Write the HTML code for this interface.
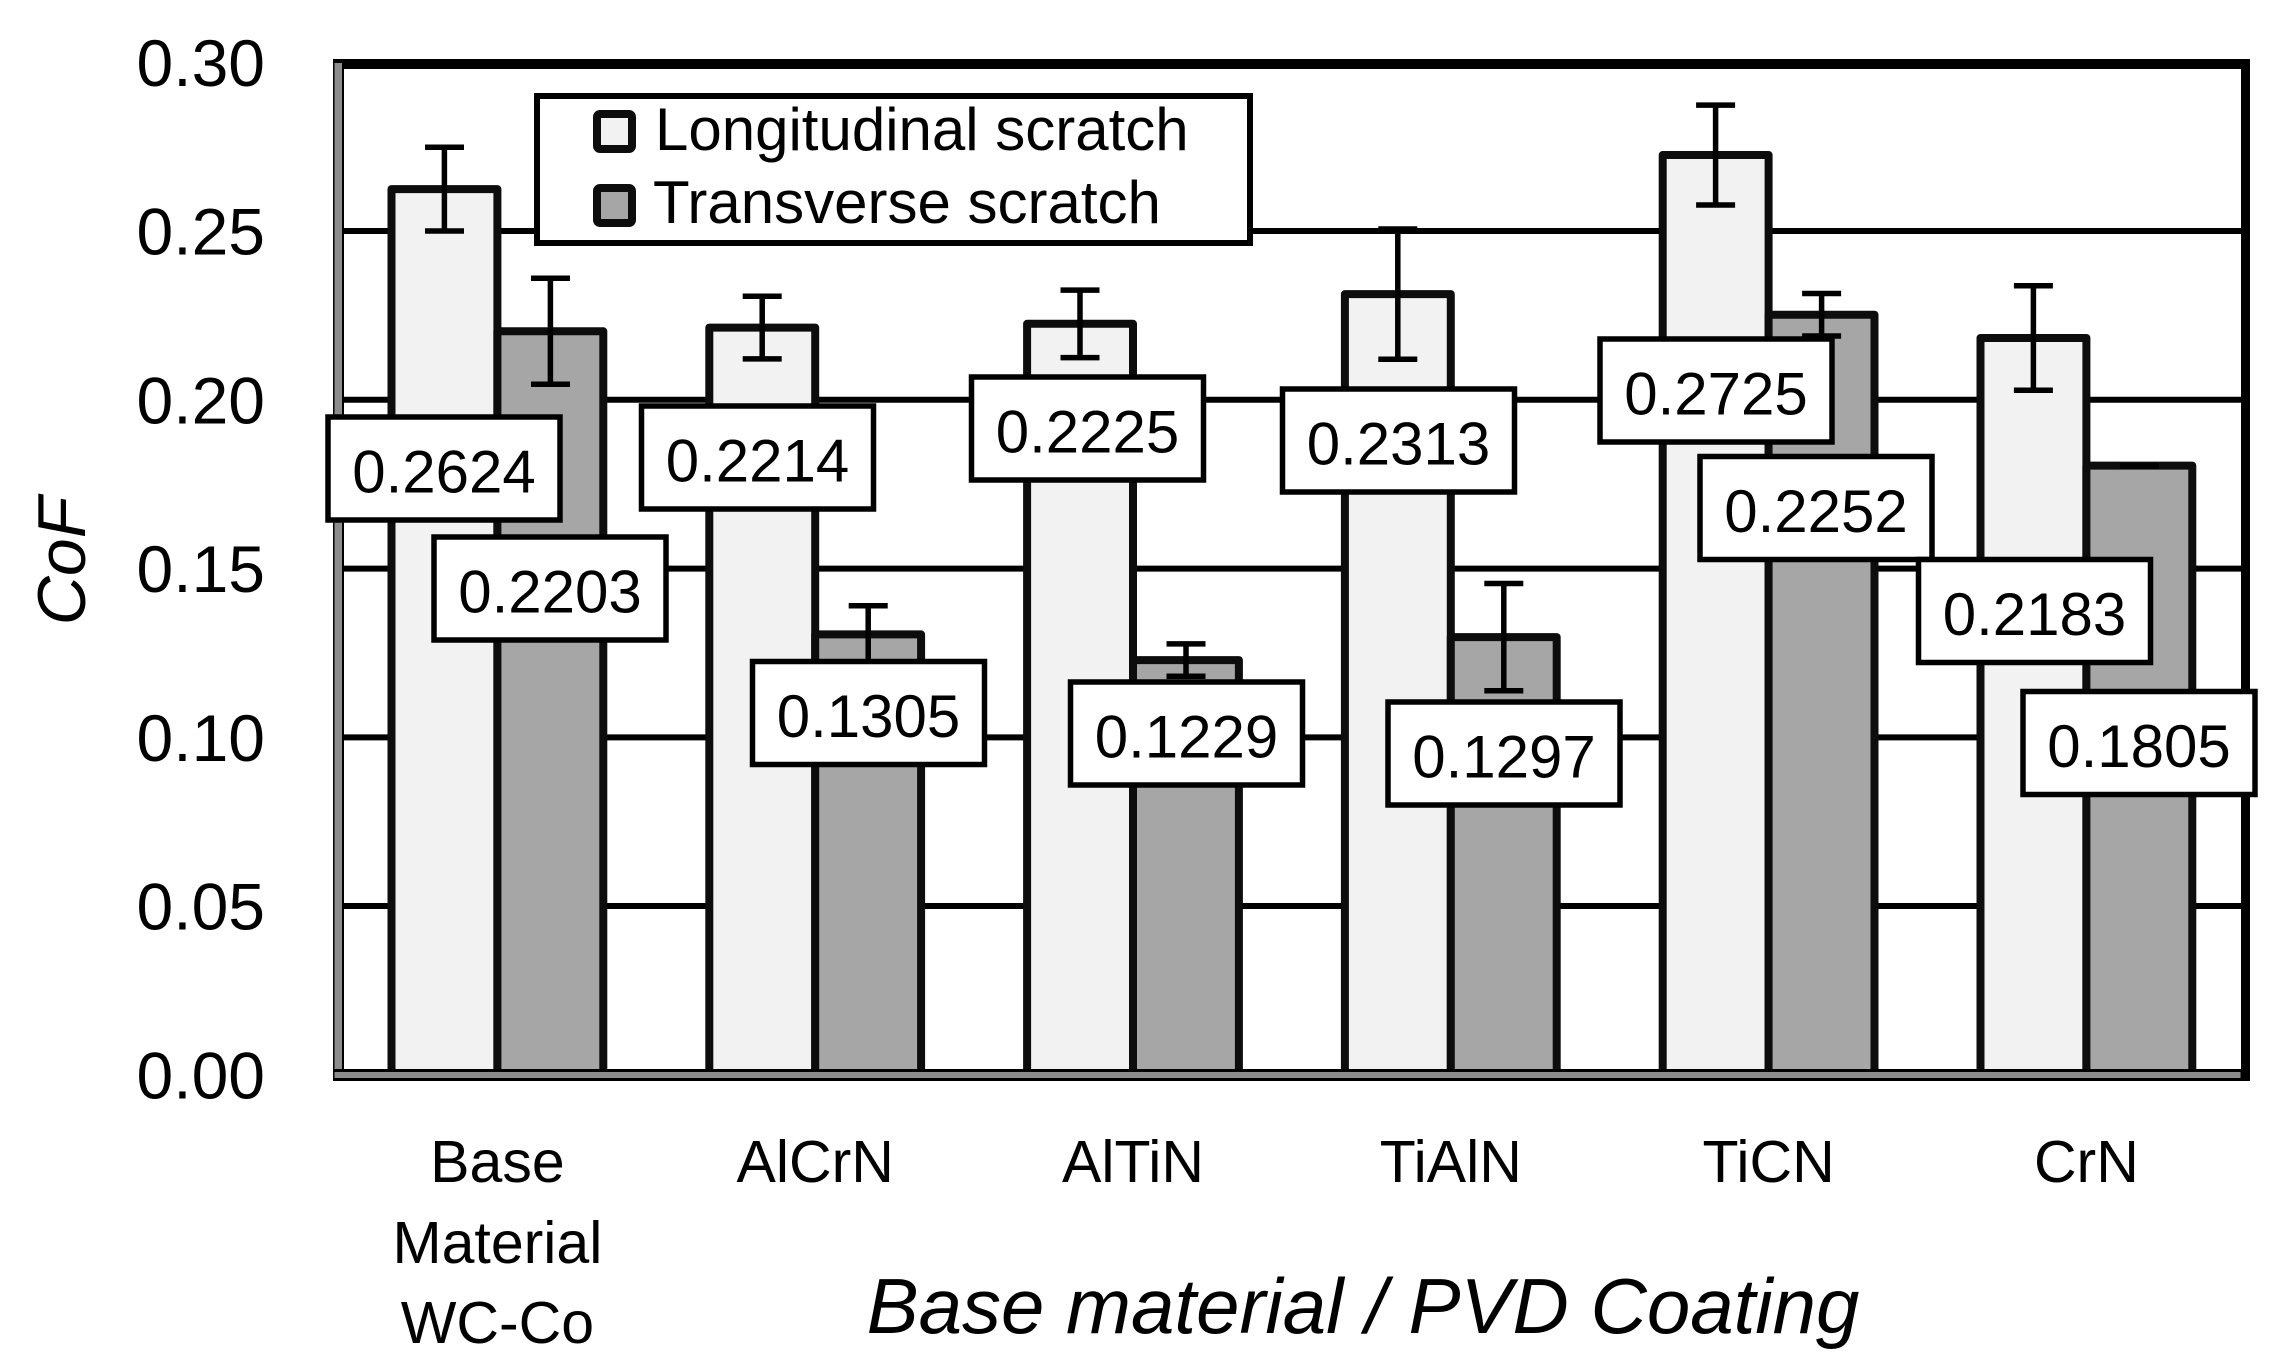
<!DOCTYPE html>
<html><head><meta charset="utf-8"><style>
html,body{margin:0;padding:0;background:#fff;}
svg{display:block;}
text{font-family:"Liberation Sans",sans-serif;fill:#000;}
</style></head><body>
<svg width="2285" height="1367" viewBox="0 0 2285 1367" xmlns="http://www.w3.org/2000/svg">
<rect x="0" y="0" width="2285" height="1367" fill="#fff"/>
<!-- gridlines -->
<g stroke="#000" stroke-width="6">
<line x1="340" y1="906" x2="2243" y2="906"/>
<line x1="340" y1="737.4" x2="2243" y2="737.4"/>
<line x1="340" y1="568.6" x2="2243" y2="568.6"/>
<line x1="340" y1="399.8" x2="2243" y2="399.8"/>
<line x1="340" y1="231" x2="2243" y2="231"/>
</g>
<!-- bars -->
<g stroke="#0d0d0d" stroke-width="8" stroke-linejoin="round">
<rect x="391.5" y="189.1" width="105.9" height="885.9" fill="#f2f2f2"/>
<rect x="497.4" y="331.3" width="105.9" height="743.7" fill="#a6a6a6"/>
<rect x="709.3" y="327.6" width="105.9" height="747.4" fill="#f2f2f2"/>
<rect x="815.2" y="634.4" width="105.9" height="440.6" fill="#a6a6a6"/>
<rect x="1027.1" y="323.8" width="105.9" height="751.2" fill="#f2f2f2"/>
<rect x="1133.0" y="660.1" width="105.9" height="414.9" fill="#a6a6a6"/>
<rect x="1344.9" y="294.1" width="105.9" height="780.9" fill="#f2f2f2"/>
<rect x="1450.8" y="637.1" width="105.9" height="437.9" fill="#a6a6a6"/>
<rect x="1662.7" y="155.0" width="105.9" height="920.0" fill="#f2f2f2"/>
<rect x="1768.6" y="314.7" width="105.9" height="760.3" fill="#a6a6a6"/>
<rect x="1980.5" y="338.0" width="105.9" height="737.0" fill="#f2f2f2"/>
<rect x="2086.4" y="465.6" width="105.9" height="609.4" fill="#a6a6a6"/>
</g>
<!-- error bars -->
<g stroke="#000" stroke-width="5.5" fill="none">
<path d="M444.4 147.3V231M425 147.3h39M425 231h39"/>
<path d="M550.4 278.3V384.3M531 278.3h39M531 384.3h39"/>
<path d="M762.2 296.2V358.9M742.7 296.2h39M742.7 358.9h39"/>
<path d="M868.2 605.7V663.1M848.7 605.7h39M848.7 663.1h39"/>
<path d="M1080 290.1V357.6M1060.5 290.1h39M1060.5 357.6h39"/>
<path d="M1186 643.9V676.3M1166.5 643.9h39M1166.5 676.3h39"/>
<path d="M1397.8 229V359.3M1378.3 229h39M1378.3 359.3h39"/>
<path d="M1503.8 583.5V690.8M1484.3 583.5h39M1484.3 690.8h39"/>
<path d="M1715.6 105.1V205M1696.1 105.1h39M1696.1 205h39"/>
<path d="M1821.6 293.5V336M1802.1 293.5h39M1802.1 336h39"/>
<path d="M2033.4 285.7V390.3M2013.9 285.7h39M2013.9 390.3h39"/>
<path d="M2119.9 466h39"/>
</g>
<!-- plot borders -->
<rect x="333" y="59" width="1917" height="10" fill="#000"/>
<rect x="2241" y="59" width="9" height="1022" fill="#000"/>
<rect x="333" y="59" width="11" height="1022" fill="#000"/>
<rect x="334.5" y="63" width="7.5" height="1015" fill="#8c8c8c"/>
<rect x="333" y="1069" width="1917" height="12" fill="#000"/>
<rect x="334.5" y="1072" width="1906" height="6" fill="#8c8c8c"/>
<!-- legend -->
<rect x="537" y="96" width="713" height="147" fill="#fff" stroke="#000" stroke-width="6"/>
<rect x="597" y="114" width="35" height="35" rx="3" fill="#f2f2f2" stroke="#0d0d0d" stroke-width="8"/>
<rect x="597" y="188" width="35" height="35" rx="3" fill="#a6a6a6" stroke="#0d0d0d" stroke-width="8"/>
<text x="655" y="150" font-size="60">Longitudinal scratch</text>
<text x="653" y="223" font-size="60">Transverse scratch</text>
<!-- data labels -->
<g fill="#fff" stroke="#000" stroke-width="5.5">
<rect x="328" y="417" width="232" height="103"/>
<rect x="434" y="537" width="232" height="103"/>
<rect x="641.5" y="406" width="232" height="103"/>
<rect x="752.5" y="661.5" width="232" height="103"/>
<rect x="971.5" y="377" width="232" height="103"/>
<rect x="1070.5" y="682" width="232" height="103"/>
<rect x="1282.5" y="389" width="232" height="103"/>
<rect x="1388" y="702" width="232" height="103"/>
<rect x="1600" y="339" width="232" height="103"/>
<rect x="1700" y="456.5" width="232" height="103"/>
<rect x="1918.5" y="559.5" width="232" height="103"/>
<rect x="2023" y="691.5" width="232" height="103"/>
</g>
<g font-size="60" text-anchor="middle">
<text x="444" y="492.5">0.2624</text>
<text x="550" y="612.5">0.2203</text>
<text x="757.5" y="481.5">0.2214</text>
<text x="868.5" y="737">0.1305</text>
<text x="1087.5" y="452.5">0.2225</text>
<text x="1186.5" y="757.5">0.1229</text>
<text x="1398.5" y="464.5">0.2313</text>
<text x="1504" y="777.5">0.1297</text>
<text x="1716" y="414.5">0.2725</text>
<text x="1816" y="532">0.2252</text>
<text x="2034.5" y="635">0.2183</text>
<text x="2139" y="767">0.1805</text>
</g>
<!-- y tick labels -->
<g font-size="66" text-anchor="end">
<text x="265" y="86">0.30</text>
<text x="265" y="254.5">0.25</text>
<text x="265" y="423.3">0.20</text>
<text x="265" y="592.1">0.15</text>
<text x="265" y="760.9">0.10</text>
<text x="265" y="929.5">0.05</text>
<text x="265" y="1098.5">0.00</text>
</g>
<text transform="translate(85,561) rotate(-90)" font-size="68" font-style="italic" text-anchor="middle">CoF</text>
<!-- x category labels -->
<g font-size="59" text-anchor="middle">
<text x="497.4" y="1182">Base</text>
<text x="497.4" y="1263">Material</text>
<text x="497.4" y="1343">WC-Co</text>
<text x="815.2" y="1182">AlCrN</text>
<text x="1133" y="1182">AlTiN</text>
<text x="1450.8" y="1182">TiAlN</text>
<text x="1768.6" y="1182">TiCN</text>
<text x="2086.4" y="1182">CrN</text>
</g>
<text x="1363" y="1333" font-size="78" font-style="italic" text-anchor="middle">Base material / PVD Coating</text>
</svg>
</body></html>
